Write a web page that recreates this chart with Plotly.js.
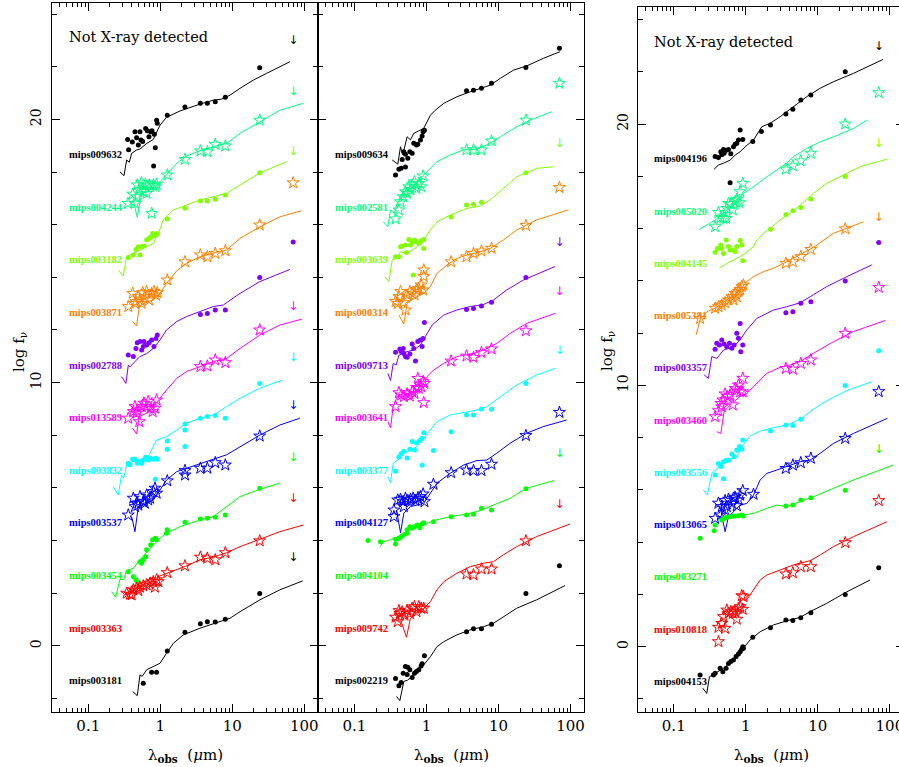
<!DOCTYPE html>
<html><head><meta charset="utf-8">
<script src="https://cdn.plot.ly/plotly-3.0.1.min.js"></script>
<style>html,body{margin:0;padding:0;overflow:hidden;background:#fff}#chart{width:906px;height:767px}</style>
</head><body><div id="chart"></div>
<script>
// ---------- tick labels ----------
const xTickVals = [0.1, 1, 10, 100];
const xTickText = ['0.1', '1', '10', '100'];
const xMinorVals = [0.04,0.05,0.06,0.07,0.08,0.09,0.2,0.3,0.4,0.5,0.6,0.7,0.8,0.9,2,3,4,5,6,7,8,9,20,30,40,50,60,70,80,90];
const yTickVals = [0, 10, 20];
const yTickText = ['0', '10', '20'];
const yMinorVals = [-2, 2, 4, 6, 8, 12, 14, 16, 18, 22, 24];

// ---------- panel 1 ----------
const p1_names = ['mips009632','mips004244','mips003182','mips003871','mips002788','mips013589','mips003832','mips003537','mips003454','mips003363','mips003181'];
const p1_lim70 = [22.99, 21.05, 18.77, null, null, 12.86, 10.92, 9.13, 7.13, 5.57, 3.33];

const m009632_lam = [0.352,0.363,0.409,0.445,0.469,0.495,0.522,0.539,0.569,0.626,0.660,0.696,0.734,0.766,0.808,0.825,0.852,0.889,0.908,1.25,2.2,3.6,4.5,5.8,8.0,24];
const m009632_f = [19.24,18.85,19.14,19.53,19.30,19.03,19.53,19.22,19.16,19.65,19.57,19.34,19.53,19.57,18.23,19.44,18.92,19.97,19.85,20.16,20.47,20.61,20.61,20.67,20.84,21.96];
const m009632_mlam = [0.275,0.313,0.341,0.371,0.40,0.47,0.52,0.65,0.80,0.89,0.99,1.22,1.88,3.55,5.44,7.1,9.3,12.8,19.5,30,46,63];
const m009632_mf = [18.01,17.86,18.46,18.37,18.71,18.84,18.87,19.09,19.24,19.53,19.78,20.08,20.32,20.58,20.73,20.77,20.92,21.18,21.49,21.75,22.0,22.19];

const m004244_lam = [0.355,0.413,0.445,0.469,0.479,0.51,0.545,0.58,0.62,0.646,0.70,0.76,0.80,0.85,0.89,1.25,2.2,3.6,4.5,5.8,8.0,24];
const m004244_f = [16.81,17.16,16.81,17.06,17.51,17.32,17.59,17.25,17.54,17.19,17.51,16.43,17.51,17.44,17.54,17.89,18.48,18.80,18.77,19.05,18.99,19.97];
const m004244_mlam = [0.42,0.479,0.55,0.65,0.80,0.99,1.22,1.69,2.32,3.55,5.44,8.35,12.8,24.2,45.8,97];
const m004244_mf = [16.94,16.28,17.19,17.25,17.44,17.63,17.89,18.33,18.61,18.81,18.96,19.09,19.47,19.91,20.35,20.61];

const m003182_lam = [0.359,0.422,0.459,0.495,0.522,0.551,0.593,0.646,0.696,0.734,0.783,0.817,0.87,0.908,1.25,2.2,3.6,4.5,5.8,8.0,24];
const m003182_f = [14.75,14.85,15.06,15.16,14.85,15.16,15.19,15.42,15.48,15.52,15.67,15.58,15.61,15.67,16.22,16.62,16.90,16.90,16.97,17.13,17.97];
const m003182_mlam = [0.261,0.306,0.334,0.379,0.58,0.80,0.94,1.10,1.52,2.32,3.55,5.44,8.35,12.8,24.2,56.7];
const m003182_mf = [14.28,14.05,14.66,14.85,15.10,15.29,15.67,16.18,16.56,16.75,16.94,17.06,17.19,17.51,17.97,18.39];

const m003871_lam = [0.359,0.413,0.445,0.459,0.495,0.522,0.551,0.569,0.61,0.646,0.696,0.758,0.817,0.87,0.908,1.25,2.2,3.6,4.5,5.8,8.0,24,70];
const m003871_f = [12.89,13.39,13.01,13.08,13.27,13.14,13.01,13.42,13.27,13.46,13.14,13.39,13.46,13.33,13.42,13.90,14.59,14.85,14.78,14.91,15.01,15.99,17.59];
const m003871_mlam = [0.413,0.469,0.51,0.58,0.80,0.99,1.22,1.69,2.32,3.55,5.44,8.35,12.8,24.2,45.8,92];
const m003871_mf = [12.32,12.15,12.89,13.01,13.14,13.39,13.77,14.25,14.53,14.78,14.92,15.04,15.48,15.92,16.30,16.53];

const m002788_lam = [0.359,0.422,0.459,0.479,0.522,0.551,0.58,0.593,0.646,0.70,0.758,0.817,0.87,0.908,3.6,4.5,5.8,8.0,24,70];
const m002788_f = [11.05,10.99,11.30,11.52,11.56,11.24,11.37,11.56,11.43,11.52,11.62,11.37,11.68,11.81,12.59,12.63,12.76,12.76,13.99,15.34];
const m002788_mlam = [0.29,0.333,0.36,0.38,0.445,0.52,0.65,0.80,0.99,1.22,1.69,2.32,3.55,5.44,7.5,9.3,12.8,24.2,63];
const m002788_mf = [10.23,9.97,10.67,10.60,10.80,10.99,11.11,11.30,11.62,12.0,12.32,12.51,12.70,12.89,12.95,13.14,13.39,13.84,14.30];

const m013589_lam = [0.359,0.422,0.445,0.469,0.479,0.51,0.551,0.593,0.646,0.68,0.734,0.783,0.843,0.889,3.6,4.5,5.8,8.0,24];
const m013589_f = [8.65,8.90,9.09,8.84,8.96,8.52,9.09,9.22,9.09,9.28,9.03,8.90,9.03,9.34,10.61,10.63,10.86,10.76,12.0];
const m013589_mlam = [0.413,0.469,0.51,0.646,0.80,0.99,1.22,1.69,2.32,3.55,5.44,8.35,12.8,24.2,45.8,92];
const m013589_mf = [8.27,8.05,8.71,8.84,9.09,9.41,9.72,10.16,10.42,10.61,10.80,10.92,11.30,11.81,12.19,12.41];

const m003832_lam = [0.359,0.379,0.413,0.445,0.479,0.51,0.551,0.58,0.626,0.68,0.734,0.80,0.852,0.87,0.908,1.25,1.25,2.2,2.2,2.2,3.6,4.5,5.8,8.0,24];
const m003832_f = [6.94,6.88,7.09,7.09,6.94,7.0,6.94,7.06,7.17,7.06,7.13,7.09,6.33,7.13,7.09,7.78,7.47,8.43,8.20,7.57,8.65,8.71,8.75,8.65,9.97];
const m003832_mlam = [0.222,0.261,0.29,0.31,0.341,0.40,0.52,0.68,0.89,1.22,1.69,2.32,3.55,5.44,8.35,12.8,24.2,50];
const m003832_mf = [6.05,5.73,6.49,6.37,6.87,7.0,7.06,7.19,7.82,7.95,8.20,8.46,8.65,8.77,9.09,9.41,9.79,10.10];

const m003537_lam = [0.359,0.422,0.445,0.469,0.495,0.522,0.58,0.61,0.646,0.68,0.72,0.80,0.843,0.889,1.25,2.2,2.2,3.6,4.5,5.8,8.0,24];
const m003537_f = [4.97,5.61,5.29,5.42,5.35,5.67,5.48,5.42,5.73,5.54,5.61,5.86,5.99,5.80,6.27,6.66,6.49,6.75,6.75,6.96,6.87,7.97];
const m003537_mlam = [0.40,0.445,0.495,0.58,0.80,0.99,1.22,1.69,2.32,3.55,5.44,8.35,12.8,24.2,45.8,87];
const m003537_mf = [4.91,4.34,5.29,5.35,5.54,5.92,6.30,6.62,6.75,6.94,7.09,7.26,7.57,8.01,8.39,8.65];

const m003454_lam = [0.359,0.422,0.459,0.479,0.522,0.551,0.58,0.626,0.646,0.734,0.783,0.852,0.889,1.25,1.22,2.2,3.6,4.5,5.8,8.0,24];
const m003454_f = [2.82,2.63,2.51,2.44,3.20,3.14,3.27,3.39,3.65,3.84,4.03,4.09,4.03,4.41,4.28,4.70,4.82,4.85,4.89,4.97,5.99];
const m003454_mlam = [0.211,0.24,0.275,0.31,0.341,0.422,0.522,0.68,0.80,0.99,1.22,1.88,3.55,5.44,8.35,12.8,24.2,45.8];
const m003454_mf = [2.06,1.85,2.53,2.52,2.86,2.95,3.27,3.65,3.84,4.09,4.28,4.53,4.78,4.91,5.29,5.67,5.95,6.18];

const m003363_lam = [0.341,0.379,0.40,0.422,0.469,0.495,0.522,0.58,0.646,0.72,0.80,0.843,0.889,0.94,1.25,2.2,3.6,4.5,5.8,8.0,24];
const m003363_f = [2.0,1.96,1.94,2.13,2.19,2.10,2.23,2.28,2.32,2.38,2.44,2.23,2.51,2.44,2.78,3.04,3.37,3.33,3.27,3.54,3.99];
const m003363_mlam = [0.323,0.38,0.52,0.72,0.99,1.52,2.32,3.55,5.44,8.35,12.8,24.2,45.8,97];
const m003363_mf = [1.94,2.0,2.28,2.41,2.66,2.86,3.04,3.27,3.37,3.54,3.77,4.05,4.34,4.59];

const m003181_lam = [0.58,0.758,0.889,1.25,2.2,3.6,4.5,5.8,8.0,24];
const m003181_f = [-1.42,-1.0,-1.0,-0.19,0.52,0.84,0.92,0.91,1.01,1.99];
const m003181_mlam = [0.413,0.479,0.522,0.56,0.646,0.80,0.99,1.22,1.52,2.09,3.55,5.44,9.3,12.8,24.2,45.8,95];
const m003181_mf = [-1.73,-1.89,-1.10,-1.16,-0.91,-0.78,-0.66,-0.28,0.10,0.42,0.67,0.84,1.05,1.30,1.75,2.13,2.47];

// ---------- panel 2 ----------
const p2_names = ['mips009634','mips002581','mips003639','mips000314','mips009713','mips003641','mips003377','mips004127','mips004104','mips009742','mips002219'];
const p2_lim70 = [null, null, 19.06, null, 15.29, 13.46, 11.22, null, 7.29, 5.35, null];

const m009634_lam = [0.373,0.415,0.446,0.461,0.486,0.512,0.512,0.552,0.589,0.634,0.668,0.727,0.759,0.826,0.871,0.899,0.938,3.6,4.5,5.8,8.0,24,70];
const m009634_f = [17.89,18.11,18.14,18.48,18.77,18.19,18.68,18.52,18.77,18.71,19.09,19.03,19.06,19.22,19.37,19.53,19.59,21.09,21.11,21.18,21.37,21.97,22.70];
const m009634_mlam = [0.335,0.401,0.437,0.47,0.54,0.60,0.668,0.918,1.136,1.33,1.74,2.65,4.06,5.57,7.66,10.6,16.1,24.6,41.9,71];
const m009634_mf = [18.46,18.30,18.96,18.65,19.34,19.22,19.47,19.66,20.16,20.35,20.61,20.86,21.05,21.18,21.30,21.56,21.87,22.03,22.32,22.57];

const m002581_lam = [0.373,0.415,0.437,0.476,0.512,0.54,0.57,0.60,0.634,0.683,0.727,0.783,0.844,0.90,3.6,4.5,5.8,8.0,24,70];
const m002581_f = [16.22,16.56,16.87,17.06,17.25,17.19,17.44,17.32,17.51,17.63,17.38,17.57,17.44,17.85,18.84,18.84,18.84,19.18,19.97,21.37];
const m002581_mlam = [0.252,0.292,0.318,0.36,0.393,0.486,0.60,0.743,0.918,1.136,1.40,2.15,3.28,5.02,6.88,10.6,17.9,27.4,54.6];
const m002581_mf = [16.11,15.92,16.56,16.43,16.81,17.19,17.38,17.63,17.89,18.14,18.39,18.65,18.84,18.87,19.03,19.34,19.72,19.97,20.29];

const m003639_lam = [0.373,0.415,0.437,0.461,0.512,0.529,0.57,0.60,0.634,0.654,0.683,0.727,0.783,0.844,0.918,0.918,2.2,3.6,4.5,5.8,24];
const m003639_f = [14.78,14.78,15.16,15.19,15.23,14.94,15.44,15.23,15.32,14.09,15.42,15.35,15.29,15.39,15.10,15.44,16.29,16.75,16.78,16.85,17.97];
const m003639_mlam = [0.263,0.302,0.335,0.393,0.437,0.54,0.743,0.918,1.136,1.40,2.15,3.65,5.57,7.66,11.7,17.9,33.8,57.3];
const m003639_mf = [14.03,13.84,14.66,14.72,14.97,14.91,15.16,15.42,15.80,16.11,16.37,16.62,16.71,16.94,17.38,17.82,18.14,18.20];

const m000314_lam = [0.373,0.40,0.415,0.437,0.476,0.512,0.54,0.589,0.634,0.683,0.727,0.783,0.844,0.90,0.918,0.918,2.2,3.6,4.5,5.8,8.0,24,70];
const m000314_f = [13.08,13.01,13.27,13.46,13.04,12.76,13.33,13.46,13.39,13.33,13.52,13.58,13.71,13.52,14.03,14.28,14.59,14.78,14.91,15.0,15.10,15.97,17.41];
const m000314_mlam = [0.415,0.486,0.54,0.668,0.918,1.136,1.40,1.93,2.65,3.65,5.57,7.66,11.7,17.9,33.8,93];
const m000314_mf = [12.57,12.23,13.01,13.20,13.39,13.65,14.15,14.47,14.72,14.85,14.97,15.10,15.42,15.80,16.18,16.56];

const m009713_lam = [0.373,0.428,0.446,0.476,0.486,0.512,0.54,0.589,0.634,0.668,0.705,0.759,0.826,0.871,0.90,0.938,3.6,4.5,5.8,8.0,24];
const m009713_f = [11.15,11.28,11.18,11.30,11.11,10.99,10.96,11.09,11.47,11.30,10.82,11.56,11.62,11.37,11.68,12.28,12.78,12.82,12.91,13.05,13.99];
const m009713_mlam = [0.292,0.318,0.346,0.38,0.415,0.512,0.668,0.826,0.968,1.20,1.74,2.65,4.06,6.20,8.52,13.0,22.2,41.9,60.6];
const m009713_mf = [10.35,10.08,10.73,10.67,11.04,11.16,11.24,11.43,11.75,12.19,12.57,12.76,12.89,12.97,13.14,13.52,13.90,14.22,14.41];

const m003641_lam = [0.373,0.415,0.446,0.486,0.54,0.589,0.634,0.683,0.727,0.759,0.783,0.844,0.90,0.938,0.918,2.2,3.6,4.5,5.8,8.0,24];
const m003641_f = [9.09,9.62,9.53,9.47,9.57,9.49,9.66,9.59,9.82,10.16,9.78,9.85,10.04,9.97,9.24,10.82,11.01,10.96,11.14,11.28,11.97];
const m003641_mlam = [0.292,0.318,0.346,0.393,0.486,0.668,0.918,1.02,1.26,1.74,2.65,4.51,6.20,9.47,14.5,24.6,60.6];
const m003641_mf = [8.52,8.29,9.09,9.47,9.49,9.62,9.97,10.23,10.48,10.73,10.99,11.11,11.24,11.49,11.87,12.25,12.63];

const m003377_lam = [0.373,0.415,0.446,0.486,0.54,0.589,0.634,0.683,0.727,0.809,0.871,0.871,0.918,1.25,2.2,3.6,4.5,5.8,8.0,24];
const m003377_f = [6.63,7.18,7.30,7.39,7.14,7.47,7.76,7.44,7.72,7.80,7.89,6.86,8.10,7.42,8.13,8.77,8.77,9.0,8.99,9.97];
const m003377_mlam = [0.292,0.318,0.346,0.401,0.486,0.60,0.743,0.918,1.136,1.40,2.15,3.28,5.02,6.88,10.6,17.9,33.8,60.6];
const m003377_mf = [6.43,6.20,6.94,7.06,7.32,7.44,7.57,7.89,8.20,8.52,8.77,8.87,8.96,9.09,9.47,9.91,10.29,10.54];

const m004127_lam = [0.354,0.354,0.40,0.437,0.476,0.486,0.512,0.552,0.60,0.654,0.705,0.759,0.826,0.90,0.938,1.25,2.2,3.6,4.5,5.8,8.0,24,70];
const m004127_f = [4.91,5.16,5.54,5.57,5.48,5.29,5.61,5.52,5.57,5.61,5.52,5.61,5.67,5.77,5.48,6.14,6.58,6.68,6.66,6.66,6.90,7.99,8.87];
const m004127_mlam = [0.385,0.437,0.486,0.60,0.743,0.918,1.136,1.40,2.15,3.28,5.02,6.88,9.47,14.5,24.6,41.9,88];
const m004127_mf = [5.16,4.30,5.04,5.29,5.35,5.42,5.80,6.18,6.56,6.87,7.04,7.06,7.32,7.70,8.08,8.33,8.58];

const m004104_lam = [0.155,0.231,0.373,0.373,0.415,0.446,0.486,0.54,0.54,0.589,0.634,0.683,0.743,0.809,0.871,0.918,1.25,2.2,3.6,4.5,5.8,8.0,24];
const m004104_f = [4.0,3.96,4.05,3.87,4.09,4.15,4.22,4.41,4.28,4.53,4.47,4.53,4.59,4.49,4.63,4.68,4.72,4.91,4.97,5.0,5.23,5.16,5.97];
const m004104_mlam = [0.227,0.257,0.318,0.393,0.486,0.60,0.826,0.918,1.26,2.15,3.65,5.57,8.52,14.5,24.6,59.3];
const m004104_mf = [3.77,3.96,4.03,4.13,4.28,4.47,4.53,4.59,4.76,4.91,5.01,5.14,5.35,5.61,5.99,6.28];

const m009742_lam = [0.373,0.40,0.415,0.428,0.461,0.497,0.54,0.589,0.634,0.683,0.727,0.783,0.844,0.918,3.6,4.5,5.8,8.0,24];
const m009742_f = [1.09,0.92,1.34,1.23,1.29,1.16,1.35,1.23,1.43,1.49,1.30,1.49,1.43,1.43,2.73,2.70,2.92,2.92,3.99];
const m009742_mlam = [0.446,0.529,0.60,0.743,0.918,1.136,1.40,1.74,2.65,4.06,6.20,8.52,11.7,17.9,33.8,98];
const m009742_mf = [0.92,0.33,1.05,1.30,1.43,1.68,2.13,2.44,2.76,3.01,3.14,3.20,3.46,3.77,4.15,4.63];

const m002219_lam = [0.373,0.415,0.446,0.476,0.512,0.54,0.552,0.589,0.634,0.683,0.727,0.783,0.844,0.871,0.938,3.6,4.5,5.8,8.0,24,70];
const m002219_f = [-1.24,-1.51,-1.39,-1.04,-0.78,-1.09,-0.81,-0.91,-1.20,-1.04,-0.97,-0.91,-0.76,-0.68,-0.37,0.54,0.65,0.65,0.82,1.99,3.04];
const m002219_mlam = [0.385,0.428,0.486,0.55,0.668,0.918,1.136,1.40,1.74,2.65,4.06,6.20,8.52,11.7,17.9,33.8,83.5];
const m002219_mf = [-1.92,-2.08,-1.35,-1.30,-1.11,-0.72,-0.41,-0.03,0.16,0.42,0.61,0.73,0.86,1.11,1.43,1.75,2.29];

// ---------- panel 3 ----------
const p3_names = ['mips004196','mips005020','mips004145','mips005381','mips003357','mips003460','mips003556','mips013065','mips003271','mips010818','mips004153'];
const p3_lim70 = [22.96, null, 19.25, 16.39, null, null, null, null, 7.53, null, null];

const m004196_lam = [0.375,0.417,0.45,0.464,0.49,0.50,0.533,0.575,0.606,0.619,0.674,0.711,0.75,0.79,0.835,0.908,1.25,1.65,2.2,3.6,4.5,5.8,8.0,24];
const m004196_f = [18.76,18.72,18.94,18.82,19.03,18.88,19.0,19.03,17.75,18.86,19.13,19.23,19.26,19.39,19.77,19.41,19.33,19.71,19.96,20.38,20.57,20.92,21.11,22.0];
const m004196_mlam = [0.363,0.417,0.49,0.606,0.711,0.835,0.979,1.28,1.67,2.18,3.0,4.13,5.69,7.04,10.8,16.5,31.3,80];
const m004196_mf = [18.27,18.43,18.50,18.62,18.81,18.94,19.13,19.39,19.90,20.03,20.28,20.56,20.86,21.05,21.37,21.62,21.94,22.47];

const m005020_lam = [0.375,0.417,0.45,0.49,0.533,0.545,0.575,0.619,0.66,0.711,0.75,0.817,0.835,0.908,3.6,4.5,5.8,8.0,24,70];
const m005020_f = [16.07,16.62,16.43,16.39,16.39,16.77,16.96,16.94,16.71,17.03,17.12,16.99,17.41,17.73,18.27,18.40,18.59,18.88,20.0,21.20];
const m005020_mlam = [0.227,0.288,0.375,0.49,0.674,0.928,1.28,1.96,3.71,4.59,7.04,10.8,16.5,31.3,47.9];
const m005020_mf = [15.97,16.14,16.33,16.58,16.90,17.35,17.60,17.98,18.50,18.75,19.07,19.32,19.51,19.83,20.15];

const m004145_lam = [0.375,0.404,0.45,0.464,0.49,0.533,0.575,0.606,0.66,0.711,0.75,0.835,0.88,0.908,2.2,3.6,4.5,5.8,8.0,24];
const m004145_f = [15.09,15.24,15.37,15.24,15.05,15.56,15.31,15.18,15.18,15.12,15.31,15.54,15.37,14.77,15.97,16.54,16.68,16.81,17.13,17.99];
const m004145_mlam = [0.431,0.545,0.75,0.979,1.28,1.42,1.76,2.18,3.0,4.13,5.69,8.72,13.3,22.8,38.7,92.6];
const m004145_mf = [14.48,14.67,14.86,15.05,15.31,15.56,15.82,16.01,16.33,16.58,16.90,17.35,17.73,18.05,18.37,18.66];

const m005381_lam = [0.232,0.375,0.417,0.464,0.516,0.575,0.64,0.674,0.711,0.75,0.79,0.835,0.88,0.928,3.6,4.5,5.8,8.0,24];
const m005381_f = [12.56,12.95,13.01,13.07,13.16,13.27,13.39,13.27,13.52,13.39,13.59,13.67,13.78,13.84,14.67,14.73,14.93,15.20,15.99];
const m005381_mlam = [0.204,0.232,0.288,0.375,0.545,0.835,1.03,1.28,1.76,2.42,3.71,5.69,8.72,16.5,43.1];
const m005381_mf = [11.93,12.50,12.82,12.95,13.27,13.65,13.97,14.16,14.35,14.48,14.73,14.99,15.28,15.82,16.26];

const m003357_lam = [0.375,0.396,0.431,0.464,0.50,0.545,0.593,0.64,0.689,0.75,0.79,0.835,0.852,0.908,3.6,4.5,5.8,8.0,24,70];
const m003357_f = [11.38,11.61,11.54,11.74,11.58,11.48,11.61,11.42,11.54,11.99,11.80,12.37,11.29,11.54,12.78,12.82,13.14,13.20,13.99,15.47];
const m003357_mlam = [0.264,0.303,0.337,0.396,0.49,0.674,0.835,1.03,1.42,2.42,3.71,5.69,7.8,13.3,25.3,56.1];
const m003357_mf = [10.40,10.27,11.10,11.03,11.35,11.48,11.74,12.12,12.56,12.88,13.01,13.16,13.39,13.78,14.16,14.61];

const m003460_lam = [0.375,0.417,0.45,0.464,0.48,0.516,0.556,0.606,0.66,0.711,0.75,0.79,0.835,0.908,0.908,3.6,4.5,5.8,8.0,24,70];
const m003460_f = [8.80,9.03,9.31,9.18,9.44,9.67,9.57,9.63,9.25,9.88,9.82,10.01,9.75,10.27,9.75,10.65,10.62,10.84,10.97,11.99,13.75];
const m003460_mlam = [0.396,0.45,0.50,0.64,0.835,1.03,1.28,1.58,1.96,3.0,4.13,5.69,8.72,16.5,31.3,86];
const m003460_mf = [8.23,8.16,9.0,9.31,9.57,9.69,9.95,10.21,10.46,10.69,10.78,10.91,11.23,11.67,12.06,12.48];

const m003556_lam = [0.375,0.417,0.45,0.49,0.49,0.533,0.575,0.64,0.689,0.75,0.817,0.88,0.908,2.2,3.6,4.5,5.8,24,70];
const m003556_f = [6.57,7.01,6.89,7.08,6.43,7.12,7.14,7.37,7.27,7.53,7.66,7.55,7.91,8.25,8.48,8.46,8.70,9.99,11.32];
const m003556_mlam = [0.258,0.293,0.337,0.464,0.606,0.75,0.928,1.15,1.58,2.42,3.71,5.69,8.72,13.3,25.3,56.1];
const m003556_mf = [5.99,5.80,6.63,6.97,7.16,7.29,7.74,8.06,8.25,8.38,8.48,8.71,9.09,9.41,9.80,10.14];

const m013065_lam = [0.375,0.417,0.45,0.464,0.516,0.516,0.545,0.575,0.64,0.674,0.711,0.75,0.79,0.835,0.908,1.28,3.6,4.5,5.8,8.0,24,70];
const m013065_f = [4.91,5.49,5.04,5.36,5.59,5.23,5.36,5.64,5.49,5.68,5.72,5.39,5.62,5.80,5.97,5.83,6.82,6.95,7.04,7.21,7.97,9.76];
const m013065_mlam = [0.45,0.516,0.575,0.835,1.03,1.28,1.58,1.96,2.69,3.71,5.69,7.8,10.8,16.5,31.3,92.6];
const m013065_mf = [5.23,4.40,4.97,5.42,5.48,5.80,6.38,6.63,6.76,6.89,7.08,7.14,7.40,7.78,8.16,8.74];

const m003271_lam = [0.232,0.364,0.375,0.464,0.50,0.545,0.593,0.66,0.711,0.79,0.88,0.928,3.6,4.5,5.8,8.0,24];
const m003271_f = [4.15,4.44,4.66,4.85,4.91,4.95,4.97,5.0,5.0,5.01,5.04,5.0,5.38,5.42,5.61,5.70,5.99];
const m003271_mlam = [0.464,0.545,0.674,0.928,1.28,1.96,2.69,3.71,5.69,8.72,16.5,31.3,112];
const m003271_mf = [4.74,4.91,4.97,5.04,5.10,5.29,5.42,5.36,5.55,5.74,6.06,6.38,6.95];

const m010818_lam = [0.417,0.417,0.464,0.49,0.516,0.545,0.575,0.619,0.66,0.711,0.75,0.79,0.835,0.88,0.908,0.928,3.6,4.5,5.8,8.0,24,70];
const m010818_f = [0.19,0.74,0.89,1.15,0.70,1.40,1.28,1.34,1.28,1.34,1.05,1.47,1.53,1.95,1.43,1.91,2.78,2.83,3.06,3.06,3.98,5.59];
const m010818_mlam = [1.03,1.28,1.58,1.96,3.0,4.59,7.8,10.8,16.5,31.3,90.8];
const m010818_mf = [1.79,2.17,2.55,2.74,2.93,3.13,3.29,3.51,3.83,4.21,4.78];

const m004153_lam = [0.232,0.355,0.375,0.44,0.48,0.533,0.575,0.619,0.674,0.734,0.79,0.835,0.88,0.908,0.928,1.25,2.2,3.6,4.5,5.8,8.0,24,70];
const m004153_f = [-1.08,-1.08,-1.02,-0.83,-0.96,-0.83,-0.64,-0.57,-0.51,-0.38,-0.28,-0.19,-0.10,0.0,-0.06,0.36,0.72,1.02,1.0,1.11,1.30,2.0,3.02];
const m004153_mlam = [0.253,0.287,0.313,0.375,0.49,0.674,0.928,1.15,1.58,2.42,3.71,5.69,7.8,13.3,25.3,53];
const m004153_mf = [-1.59,-1.79,-1.15,-1.02,-0.83,-0.51,-0.06,0.26,0.57,0.83,0.99,1.12,1.34,1.66,2.10,2.55];

const lim70Lam = 70;
const labelLam = 0.0506;

// ---------- styles ----------
const seriesColors = ['#000000','#00ff80','#80ff00','#ff8000','#8000ff','#ff00ff','#00ffff','#0000ff','#00ff00','#ff0000','#000000'];
const seriesMarker = ['dot','star','dot','star','dot','star','dot','star','dot','star','dot'];

const panels = [
  {xa:'x', ya:'y', names:p1_names, lim:p1_lim70, data:[
    [m009632_lam,m009632_f,m009632_mlam,m009632_mf],[m004244_lam,m004244_f,m004244_mlam,m004244_mf],
    [m003182_lam,m003182_f,m003182_mlam,m003182_mf],[m003871_lam,m003871_f,m003871_mlam,m003871_mf],
    [m002788_lam,m002788_f,m002788_mlam,m002788_mf],[m013589_lam,m013589_f,m013589_mlam,m013589_mf],
    [m003832_lam,m003832_f,m003832_mlam,m003832_mf],[m003537_lam,m003537_f,m003537_mlam,m003537_mf],
    [m003454_lam,m003454_f,m003454_mlam,m003454_mf],[m003363_lam,m003363_f,m003363_mlam,m003363_mf],
    [m003181_lam,m003181_f,m003181_mlam,m003181_mf]], notx:true},
  {xa:'x2', ya:'y2', names:p2_names, lim:p2_lim70, data:[
    [m009634_lam,m009634_f,m009634_mlam,m009634_mf],[m002581_lam,m002581_f,m002581_mlam,m002581_mf],
    [m003639_lam,m003639_f,m003639_mlam,m003639_mf],[m000314_lam,m000314_f,m000314_mlam,m000314_mf],
    [m009713_lam,m009713_f,m009713_mlam,m009713_mf],[m003641_lam,m003641_f,m003641_mlam,m003641_mf],
    [m003377_lam,m003377_f,m003377_mlam,m003377_mf],[m004127_lam,m004127_f,m004127_mlam,m004127_mf],
    [m004104_lam,m004104_f,m004104_mlam,m004104_mf],[m009742_lam,m009742_f,m009742_mlam,m009742_mf],
    [m002219_lam,m002219_f,m002219_mlam,m002219_mf]], notx:false},
  {xa:'x3', ya:'y3', names:p3_names, lim:p3_lim70, data:[
    [m004196_lam,m004196_f,m004196_mlam,m004196_mf],[m005020_lam,m005020_f,m005020_mlam,m005020_mf],
    [m004145_lam,m004145_f,m004145_mlam,m004145_mf],[m005381_lam,m005381_f,m005381_mlam,m005381_mf],
    [m003357_lam,m003357_f,m003357_mlam,m003357_mf],[m003460_lam,m003460_f,m003460_mlam,m003460_mf],
    [m003556_lam,m003556_f,m003556_mlam,m003556_mf],[m013065_lam,m013065_f,m013065_mlam,m013065_mf],
    [m003271_lam,m003271_f,m003271_mlam,m003271_mf],[m010818_lam,m010818_f,m010818_mlam,m010818_mf],
    [m004153_lam,m004153_f,m004153_mlam,m004153_mf]], notx:true}
];

const traces = [];
const annotations = [];
panels.forEach(function(p){
  p.data.forEach(function(d, i){
    const c = seriesColors[i];
    traces.push({type:'scatter', mode:'lines', x:d[2], y:d[3], xaxis:p.xa, yaxis:p.ya,
      line:{color:c, width:1}, hoverinfo:'skip', showlegend:false});
    const star = seriesMarker[i] === 'star';
    traces.push({type:'scatter', mode:'markers', x:d[0], y:d[1], xaxis:p.xa, yaxis:p.ya,
      marker: star ? {symbol:'star-open', size:9, color:c, line:{color:c, width:1}}
                   : {symbol:'circle', size:5, color:c, line:{width:0}},
      hoverinfo:'skip', showlegend:false});
    annotations.push({xref:p.xa, yref:p.ya, x:Math.log10(labelLam), y:18.67 - 2*i,
      text:'<b>' + p.names[i] + '</b>', showarrow:false, xanchor:'left', yanchor:'middle',
      font:{family:'Liberation Serif', size:10.5, color:c}});
  });
  const ax = [], ay = [], ac = [];
  p.lim.forEach(function(v, i){ if(v !== null){ ax.push(lim70Lam); ay.push(v); ac.push(seriesColors[i]); } });
  traces.push({type:'scatter', mode:'text', x:ax, y:ay, text:ax.map(function(){return '↓';}),
    textposition:'middle center', textfont:{family:'DejaVu Sans', size:12, color:ac},
    xaxis:p.xa, yaxis:p.ya, hoverinfo:'skip', showlegend:false, cliponaxis:false});
  if(p.notx){
    annotations.push({xref:p.xa, yref:p.ya, x:Math.log10(labelLam), y:23.13, text:'Not X-ray detected',
      showarrow:false, xanchor:'left', yanchor:'middle', font:{family:'DejaVu Serif', size:14.5, color:'#000'}});
  }
});

const W = 906, H = 767;
function xdom(a, b){ return [a / W, b / W]; }
function ydom(top, bottom){ return [1 - bottom / H, 1 - top / H]; }

function xAxis(dom, rng, anchor){
  return {type:'log', range:rng, domain:dom, anchor:anchor, showline:true, linecolor:'#000', linewidth:1,
    mirror:'ticks', ticks:'inside', ticklen:8, tickwidth:1, tickcolor:'#000', tickmode:'array',
    tickvals:xTickVals, ticktext:xTickText, showgrid:false, zeroline:false, automargin:false,
    tickfont:{family:'DejaVu Serif', size:15, color:'#000'}, ticklabelstandoff:0,
    minor:{tickmode:'array', tickvals:xMinorVals, ticks:'inside', ticklen:4, tickwidth:1, tickcolor:'#000', showgrid:false}};
}
function yAxis(dom, rng, anchor, labels){
  return {range:rng, domain:dom, anchor:anchor, showline:true, linecolor:'#000', linewidth:1,
    mirror:'ticks', ticks:'inside', ticklen:8, tickwidth:1, tickcolor:'#000', tickmode:'array',
    tickvals:yTickVals, ticktext:yTickText, showticklabels:labels, tickangle:-90, showgrid:false,
    zeroline:false, automargin:false, tickfont:{family:'DejaVu Serif', size:14, color:'#000'}, ticklabelstandoff:4,
    minor:{tickmode:'array', tickvals:yMinorVals, ticks:'inside', ticklen:5, tickwidth:1, tickcolor:'#000', showgrid:false}};
}

const xTitle = 'λ<sub><b>obs</b></sub>  (<i>μ</i>m)';
const yTitle = 'log f<sub>ν</sub>';
[[185, 755], [451, 755], [771, 755]].forEach(function(pt){
  annotations.push({xref:'paper', yref:'paper', x:pt[0]/W, y:1 - pt[1]/H, text:xTitle, showarrow:false,
    xanchor:'center', yanchor:'middle', font:{family:'DejaVu Serif', size:15, color:'#000'}});
});
[[19, 352], [607, 351]].forEach(function(pt){
  annotations.push({xref:'paper', yref:'paper', x:pt[0]/W, y:1 - pt[1]/H, text:yTitle, showarrow:false,
    textangle:-90, xanchor:'center', yanchor:'middle', font:{family:'DejaVu Serif', size:15, color:'#000'}});
});

const layout = {
  width:W, height:H, margin:{l:0, r:0, t:0, b:0}, paper_bgcolor:'#fff', plot_bgcolor:'rgba(0,0,0,0)',
  showlegend:false, hovermode:false,
  xaxis: xAxis(xdom(52, 318), [-1.504, 2.19], 'y'),
  yaxis: yAxis(ydom(3.3, 711.7), [-2.50, 24.41], 'x', true),
  xaxis2: xAxis(xdom(318, 584.3), [-1.504, 2.19], 'y2'),
  yaxis2: yAxis(ydom(3.3, 711.7), [-2.50, 24.41], 'x2', false),
  xaxis3: xAxis(xdom(638.3, 904.3), [-1.492, 2.2], 'y3'),
  yaxis3: yAxis(ydom(6.7, 712), [-2.50, 24.49], 'x3', true),
  annotations: annotations
};

Plotly.newPlot('chart', traces, layout, {displayModeBar:false, staticPlot:true});
</script></body></html>
